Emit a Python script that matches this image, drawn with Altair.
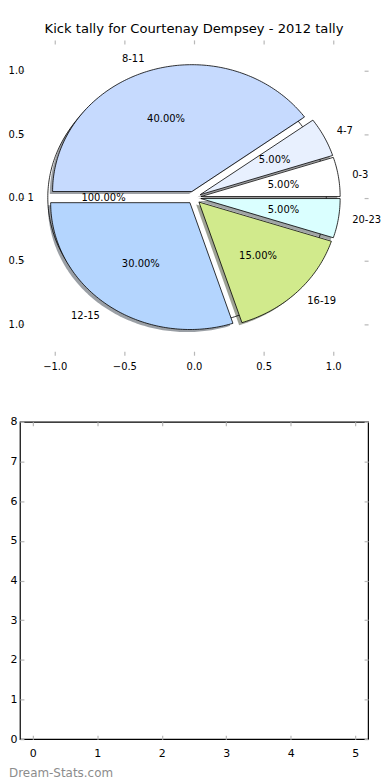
import math
import altair as alt
import pandas as pd

# ---------------- data ----------------
title_text = "Kick tally for Courtenay Dempsey - 2012 tally"
slice_labels = ["0-3", "4-7", "8-11", "12-15", "16-19", "20-23"]
slice_values = [1, 1, 8, 6, 3, 1]
slice_colors = ["#ffffff", "#e8f0fe", "#c6dafe", "#b4d5fe", "#d1ea8c", "#daffff"]
explode = 0.05
total_labels = ["1"]
total_values = [1]
pie_ticks = [-1.0, -0.5, 0.0, 0.5, 1.0]
grid_x_ticks = [0, 1, 2, 3, 4, 5]
grid_y_ticks = [0, 1, 2, 3, 4, 5, 6, 7, 8]
watermark = "Dream-Stats.com"

FONT = "DejaVu Sans"
SHADOW_DX, SHADOW_DY = -0.02, -0.02


def darken(hexcol, f=0.3):
    r, g, b = (int(hexcol[i:i + 2], 16) for i in (1, 3, 5))
    return "#%02x%02x%02x" % (int(r * f), int(g * f), int(b * f))


def build_pie(labels, values, colors, expl):
    total = float(sum(values))
    poly, shad, pct, lab = [], [], [], []
    t1 = 0.0
    for i, (name, v) in enumerate(zip(labels, values)):
        t2 = t1 + 360.0 * v / total
        mid = math.radians((t1 + t2) / 2)
        cx, cy = expl * math.cos(mid), expl * math.sin(mid)
        full = (t2 - t1) >= 359.999
        n = max(2, int(math.ceil(t2 - t1)))
        pts = []
        if not full:
            pts.append((cx, cy))
        for k in range(n + 1):
            t = math.radians(t1 + (t2 - t1) * k / n)
            pts.append((cx + math.cos(t), cy + math.sin(t)))
        if not full:
            pts.append((cx, cy))
        col = colors[i] if colors else "none"
        for j, (px, py) in enumerate(pts):
            poly.append({"key": name, "idx": j, "x": px, "y": py, "color": col})
            shad.append({"key": name, "idx": j, "x": px + SHADOW_DX, "y": py + SHADOW_DY,
                         "color": darken(col) if colors else "none"})
        pct.append({"x": cx + 0.6 * math.cos(mid), "y": cy + 0.6 * math.sin(mid),
                    "text": "%1.2f%%" % (100.0 * v / total)})
        lx, ly = cx + 1.1 * math.cos(mid), cy + 1.1 * math.sin(mid)
        lab.append({"x": lx, "y": ly, "text": name, "side": "left" if lx > 0 else "right"})
        t1 = t2
    return pd.DataFrame(poly), pd.DataFrame(shad), pd.DataFrame(pct), pd.DataFrame(lab)


poly_df, shad_df, pct_df, lab_df = build_pie(slice_labels, slice_values, slice_colors, explode)
tpoly_df, _, tpct_df, tlab_df = build_pie(total_labels, total_values, None, explode)
pct_all = pd.concat([tpct_df, pct_df], ignore_index=True)
lab_all = pd.concat([tlab_df, lab_df], ignore_index=True)

# ---------------- pie panel ----------------
xs = alt.Scale(domain=[-1.25, 1.25], nice=False, zero=False)
ys = alt.Scale(domain=[-1.243, 1.243], nice=False, zero=False)

TICK_GRAY = "#b8b8b8"


def tick_axis(orient, values, fmt, labels=False, size=10, pad=4):
    kw = dict(orient=orient, values=values, format=fmt, domain=False, grid=False,
              ticks=True, tickSize=4, tickColor=TICK_GRAY, tickWidth=1.2, offset=-4,
              labels=labels, title=None)
    if labels:
        kw.update(labelFont=FONT, labelFontSize=size, labelColor="#000000",
                  labelPadding=pad)
    return alt.Axis(**kw)


def label_axis(orient, values, fmt, size=10, offset=-8, pad=4):
    return alt.Axis(orient=orient, values=values, format=fmt, domain=False, grid=False,
                    ticks=False, tickSize=0, offset=offset, labels=True, title=None,
                    labelFont=FONT, labelFontSize=size, labelColor="#000000",
                    labelPadding=pad)


shadows = alt.Chart(shad_df).mark_line(strokeWidth=0, opacity=0.5).encode(
    x=alt.X("x:Q", scale=xs, axis=tick_axis("bottom", pie_ticks, ".1f", labels=True, pad=6)),
    y=alt.Y("y:Q", scale=ys, axis=tick_axis("left", pie_ticks, ".1f")),
    fill=alt.Fill("color:N", scale=None),
    detail="key:N",
    order="idx:Q",
)

y_labels = alt.Chart(pct_all).mark_point(opacity=0).encode(
    x=alt.X("x:Q", scale=xs, axis=None),
    y=alt.Y("y:Q", scale=ys, axis=label_axis("left", pie_ticks, ".1f")),
)

outline_full = alt.Chart(tpoly_df).mark_line(stroke="black", strokeWidth=0.8).encode(
    x=alt.X("x:Q", scale=xs, axis=None),
    y=alt.Y("y:Q", scale=ys, axis=None),
    detail="key:N",
    order="idx:Q",
)

wedges = alt.Chart(poly_df).mark_line(stroke="black", strokeWidth=0.8,
                                      strokeJoin="miter").encode(
    x=alt.X("x:Q", scale=xs, axis=tick_axis("top", pie_ticks, ".1f")),
    y=alt.Y("y:Q", scale=ys, axis=tick_axis("right", pie_ticks, ".1f")),
    fill=alt.Fill("color:N", scale=None),
    detail="key:N",
    order="idx:Q",
)

pct_text = alt.Chart(pct_all).mark_text(font=FONT, fontSize=10, color="black",
                                        baseline="middle").encode(
    x=alt.X("x:Q", scale=xs, axis=None),
    y=alt.Y("y:Q", scale=ys, axis=None),
    text="text:N",
)

lab_left = alt.Chart(lab_all).transform_filter(alt.datum.side == "left").mark_text(
    font=FONT, fontSize=10, color="black", baseline="middle", align="left").encode(
    x=alt.X("x:Q", scale=xs, axis=None),
    y=alt.Y("y:Q", scale=ys, axis=None),
    text="text:N",
)
lab_right = alt.Chart(lab_all).transform_filter(alt.datum.side == "right").mark_text(
    font=FONT, fontSize=10, color="black", baseline="middle", align="right").encode(
    x=alt.X("x:Q", scale=xs, axis=None),
    y=alt.Y("y:Q", scale=ys, axis=None),
    text="text:N",
)

pie_panel = alt.layer(
    shadows, y_labels, outline_full, wedges, pct_text, lab_left, lab_right
).resolve_axis(x="independent", y="independent").properties(
    width=350, height=317,
    title=alt.TitleParams(title_text, font=FONT, fontSize=13.2, fontWeight="normal",
                          color="black", anchor="middle", offset=3),
)

# ---------------- empty panel ----------------
grid_df = pd.DataFrame({"x": grid_x_ticks[:1] * 2, "y": grid_y_ticks[:2]})
xs2 = alt.Scale(domain=[-0.2, 5.2], nice=False, zero=False)
ys2 = alt.Scale(domain=[0, 8], nice=False, zero=False)

base_a = alt.Chart(grid_df).mark_point(opacity=0).encode(
    x=alt.X("x:Q", scale=xs2, axis=tick_axis("bottom", grid_x_ticks, "d", labels=True, size=11, pad=8)),
    y=alt.Y("y:Q", scale=ys2, axis=tick_axis("left", grid_y_ticks, "d", labels=True, size=11, pad=3)),
)
base_b = alt.Chart(grid_df).mark_point(opacity=0).encode(
    x=alt.X("x:Q", scale=xs2, axis=tick_axis("top", grid_x_ticks, "d")),
    y=alt.Y("y:Q", scale=ys2, axis=tick_axis("right", grid_y_ticks, "d")),
)

empty_panel = alt.layer(base_a, base_b).resolve_axis(
    x="independent", y="independent").properties(
    width=350, height=319,
    view=alt.ViewBackground(stroke="black", strokeWidth=1.2),
    title=alt.TitleParams(watermark, orient="bottom", anchor="start", frame="group",
                          font=FONT, fontSize=12, fontWeight="normal", color="#8c8c8c",
                          dx=-11, offset=10),
)

chart = alt.vconcat(pie_panel, empty_panel, spacing=67, bounds="flush").properties(
    padding={"left": -9, "top": 11, "right": 0, "bottom": 0},
).configure_view(stroke="transparent")

chart.save("out.html", embed_options={"renderer": "svg", "actions": False})
